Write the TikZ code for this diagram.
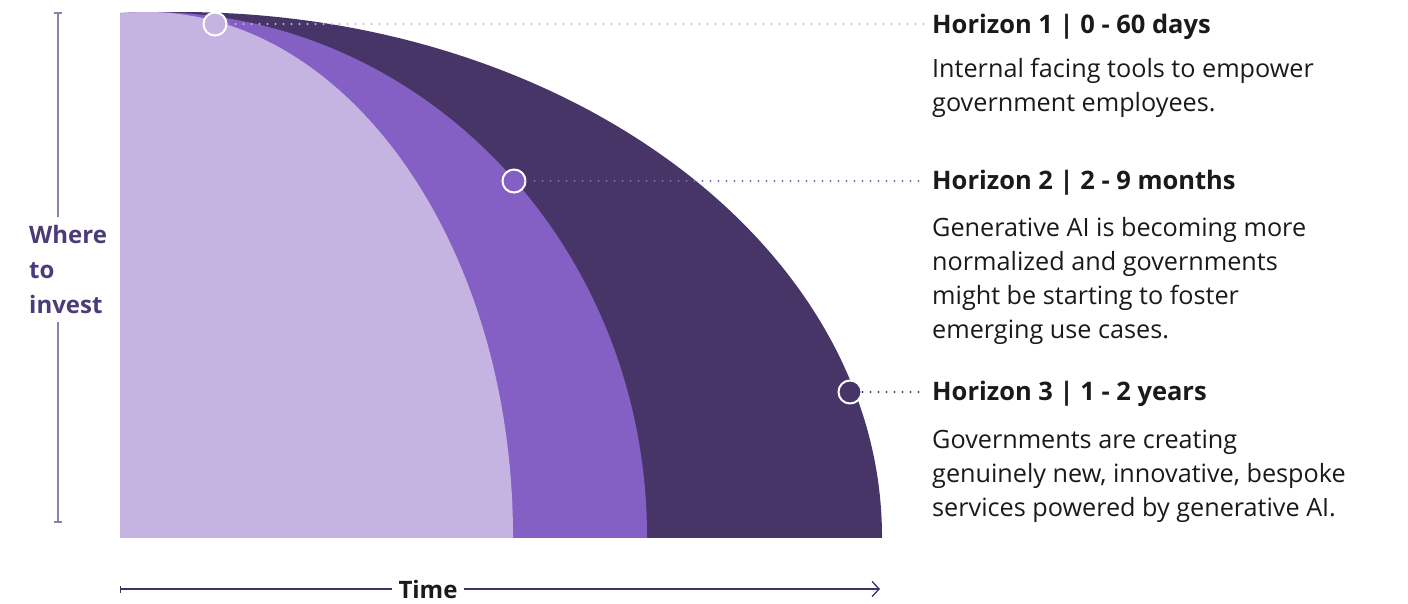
\documentclass[tikz,border=0pt]{standalone}
\usepackage{fontspec}
\setmainfont{Open Sans}
\usepackage{tikz}
\usetikzlibrary{arrows.meta,positioning}
\usepackage{xcolor}
\definecolor{hzlight}{RGB}{197,179,226}
\definecolor{hzmid}{RGB}{133,96,196}
\definecolor{hzdark}{RGB}{71,53,104}
\definecolor{axisgrey}{RGB}{140,128,170}
\definecolor{axisnavy}{RGB}{60,52,104}
\definecolor{labelpurple}{RGB}{75,59,120}
\definecolor{inkblack}{RGB}{26,26,26}
\tikzstyle{marker} = [circle, draw=white, line width=2pt, minimum size=23pt, inner sep=0pt]
\tikzstyle{leader} = [line width=2.2pt, line cap=round, dash pattern=on 0pt off 8pt]
\tikzstyle{heading} = [anchor=base west, inner xsep=7pt, inner ysep=0pt, text=inkblack, font=\fontsize{25.5}{28}\selectfont\bfseries]
\tikzstyle{blurb} = [anchor=north west, inner sep=0pt, align=left, text=inkblack, font=\fontsize{25.2}{34}\selectfont]
\tikzstyle{axislabel} = [font=\fontsize{24}{35}\selectfont\bfseries]
\tikzstyle{yaxis} = [line width=2pt, color=axisgrey]
\tikzstyle{timeaxis} = [line width=1.3pt, color=axisnavy]

\begin{document}
\begin{tikzpicture}[x=1pt, y=-1pt]
\useasboundingbox (0,0) rectangle (1408,603);
% Regions
\begin{scope}
\clip (120,12) rectangle (900,537);
\fill[hzdark] (180,537) ellipse [x radius=702pt, y radius=525pt];
\fill[hzmid] (150,537) ellipse [x radius=497pt, y radius=525pt];
\fill[hzlight] (147,537) ellipse [x radius=366pt, y radius=525pt];
\end{scope}

% Horizons
\node[heading] (h1) at (925,33) {Horizon 1 | 0 - 60 days};
\node[heading] (h2) at (925,189) {Horizon 2 | 2 - 9 months};
\node[heading] (h3) at (925,400) {Horizon 3 | 1 - 2 years};
\node[blurb] (b1) at (932,58) {Internal facing tools to empower\\government employees.};
\node[blurb] (b2) at (932,217) {Generative AI is becoming more\\normalized and governments\\might be starting to foster\\emerging use cases.};
\node[blurb] (b3) at (932,430) {Governments are creating\\genuinely new, innovative, bespoke\\services powered by generative AI.};

% Markers
\node[marker, fill=hzlight] (c1) at (215,24) {};
\node[marker, fill=hzmid] (c2) at (514,181) {};
\node[marker, fill=hzdark] (c3) at (850,392) {};

% Leaders
\draw[leader, hzlight] (c1) -- (c1 -| h1.west);
\draw[leader, hzmid] (c2) -- (c2 -| h2.west);
\draw[leader, hzdark] (c3) -- (c3 -| h3.west);

% Axes
\coordinate (ytop) at (58,12);
\coordinate (ybot) at (58,523);
\node[axislabel, text=labelpurple, align=left, anchor=north west, inner xsep=0pt, inner ysep=8pt] (ylabel) at (29,217) {Where\\to\\invest};
\draw[yaxis, {Bar[width=8pt]}-] (ytop) -- (ytop |- ylabel.north);
\draw[yaxis, -{Bar[width=8pt]}] (ytop |- ylabel.south) -- (ybot);

\coordinate (tstart) at (120,589);
\coordinate (tend) at (880,589);
\node[axislabel, text=inkblack, inner xsep=6pt, inner ysep=0pt] (time) at (428,589) {Time};
\draw[timeaxis, {Bar[width=7pt]}-] (tstart) -- (time.west);
\draw[timeaxis, -{Straight Barb[length=7pt, width=15pt]}] (time.east) -- (tend);
\end{tikzpicture}
\end{document}
